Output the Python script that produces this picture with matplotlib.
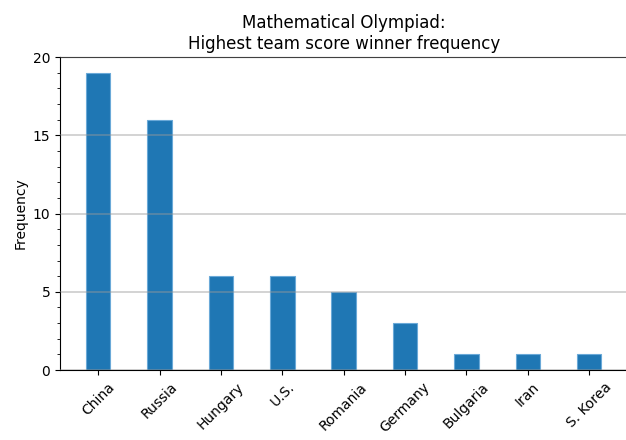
import matplotlib
matplotlib.use("Agg")
import matplotlib.pyplot as plt
from matplotlib.ticker import MultipleLocator

countries = ["China", "Russia", "Hungary", "U.S.", "Romania",
             "Germany", "Bulgaria", "Iran", "S. Korea"]
wins = [19, 16, 6, 6, 5, 3, 1, 1, 1]

fig = plt.figure(figsize=(6.26, 4.4), dpi=100)
ax = fig.add_axes([0.096, 0.159, 0.906, 0.711])

ax.bar(range(len(countries)), wins, width=0.4, color="#1f77b4",
       edgecolor="#6aa9d8", linewidth=0.8)
ax.set_axisbelow(False)
ax.yaxis.grid(True, color="#999999", alpha=0.5, linewidth=1.2)

ax.set_ylim(0, 20)
ax.yaxis.set_major_locator(MultipleLocator(5))
ax.yaxis.set_minor_locator(MultipleLocator(1))
ax.set_xticks(range(len(countries)))
ax.set_xticklabels(countries, rotation=45)
ax.spines["right"].set_visible(False)

ax.set_ylabel("Frequency")
ax.set_title("Mathematical Olympiad:\nHighest team score winner frequency")

fig.savefig("out.png", dpi=100)
